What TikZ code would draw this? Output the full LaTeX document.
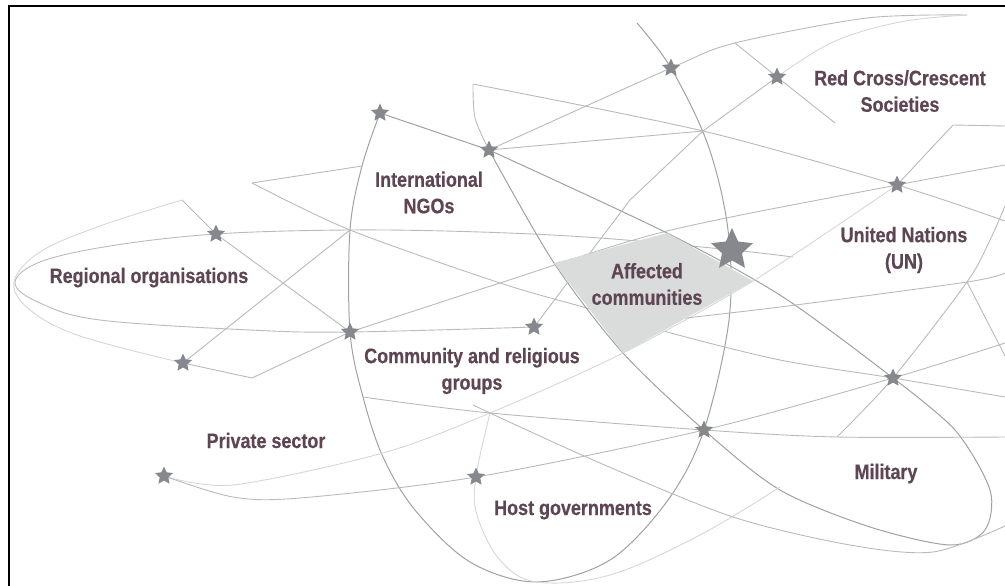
\documentclass[tikz,border=0pt]{standalone}
\usepackage{fontspec}
\setmainfont{Liberation Sans}[FakeStretch=0.855, BoldFeatures={FakeBold=0.4}]
\usepackage{tikz}
\usetikzlibrary{shapes.geometric}

\definecolor{labelcol}{RGB}{93,69,82}
\definecolor{starcol}{RGB}{135,136,141}
\definecolor{patchcol}{RGB}{218,219,219}

\tikzset{
	web/.style={draw=black!27, line width=0.9pt},
	webdark/.style={draw=black!37, line width=1pt},
	webfaint/.style={draw=black!16, line width=0.9pt},
	smallstar/.style={star, star points=5, star point ratio=2.1, fill=starcol, inner sep=0pt, minimum size=19pt},
	bigstar/.style={smallstar, minimum size=44pt},
	actor/.style={text=labelcol, font=\bfseries\fontsize{21}{26.5}\selectfont, align=center, inner sep=0pt}
}

\begin{document}
\begin{tikzpicture}[x=1pt,y=-1pt]

	\useasboundingbox (0,0) rectangle (1005,586);

	% star places
	\coordinate (S1) at (216,234);
	\coordinate (S2) at (183,363);
	\coordinate (S3) at (350,332);
	\coordinate (S4) at (380,113);
	\coordinate (S5) at (489,150);
	\coordinate (S6) at (671,68);
	\coordinate (S7) at (777,77);
	\coordinate (S8) at (897,185);
	\coordinate (S9) at (732,250);
	\coordinate (S10) at (534,327);
	\coordinate (S11) at (893,378);
	\coordinate (S12) at (704,430);
	\coordinate (S13) at (476,477);
	\coordinate (S14) at (164,476);

	% crossings and ends
	\coordinate (V1) at (182,200);
	\coordinate (V3) at (252,183);
	\coordinate (V4) at (362,166);
	\coordinate (V5) at (350,230);
	\coordinate (V6) at (252,378);
	\coordinate (V7) at (473,84);
	\coordinate (V8) at (703,131);
	\coordinate (V9) at (637,23);
	\coordinate (V10) at (735,43);
	\coordinate (V11) at (967,15);
	\coordinate (V12) at (835,123);
	\coordinate (V13) at (953,125);
	\coordinate (V15) at (967,282);
	\coordinate (V16) at (837,437);
	\coordinate (V17) at (490,413);
	\coordinate (V18) at (363,397);
	\coordinate (V19) at (537,582);
	\coordinate (V20) at (780,487);
	\coordinate (V21) at (793,257);
	\coordinate (V22) at (473,405);

	\coordinate (R1) at (1005,126);
	\coordinate (R2) at (1005,165);
	\coordinate (R3) at (1005,206);
	\coordinate (R4) at (1005,221);
	\coordinate (R5) at (1005,273);
	\coordinate (R6) at (1005,343);
	\coordinate (R7) at (1005,356);
	\coordinate (R8) at (1005,397);
	\coordinate (R9) at (1005,437);
	\coordinate (R10) at (1005,526);

	\coordinate (C1) at (554,263);
	\coordinate (C2) at (667,233);
	\coordinate (C3) at (753,281);
	\coordinate (C4) at (623,353);

	% threads
	\draw[webdark] plot[smooth, tension=0.55] coordinates {(V9) (S6) (708,145) (728,230) (729,320) (S12) (668,500) (610,560) (V19) (470,562) (415,510) (383,457) (V18) (S3) (V5) (V4) (S4)};
	\draw[web] plot[smooth, tension=0.6] coordinates {(V21) (S9) (600,238) (480,232) (V5) (S1) (110,246) (40,262) (15,283) (40,303) (100,320) (250,330) (S3) (S10)};
	\draw[webfaint] plot[smooth, tension=0.6] coordinates {(V1) (100,226) (40,252) (14,282) (30,310) (80,336) (S2)};

	\draw[web] (V1) -- (S1) -- (S3);
	\draw[web] (V3) -- (V4);
	\draw[web] (S2) -- (V5);
	\draw[web] (S2) -- (V6) -- (S3);
	\draw[web] plot[smooth, tension=0.5] coordinates {(S3) (500,283) (667,231) (S8) (R2)};
	\draw[web] plot[smooth, tension=0.5] coordinates {(V3) (V5) (500,283) (583,307) (667,332) (780,360) (S11) (R8)};
	\draw[web] plot[smooth] coordinates {(V7) (475,118) (S5)};
	\draw[web] plot[smooth, tension=0.5] coordinates {(V7) (V8) (S8) (R4)};
	\draw[webdark] (S4) -- (S5);
	\draw[webdark] plot[smooth, tension=0.5] coordinates {(S5) (C1) (C4) (S12) (780,490) (870,527) (950,545) (985,530) (990,490) (955,430) (S11)};
	\draw[webdark] plot[smooth, tension=0.5] coordinates {(S5) (C2) (783,297) (S11)};

	\draw[web] plot[smooth, tension=0.5] coordinates {(S5) (S6) (V10) (867,18) (V11)};
	\draw[web] (V10) -- (S7) -- (V12);
	\draw[webfaint] plot[smooth, tension=0.6] coordinates {(S7) (833,42) (900,22) (V11)};
	\draw[web] (S5) -- (V8);
	\draw[web] (S7) -- (V8) -- (630,200) -- (S10);
	\draw[web] (S8) -- (V13) -- (R1);

	\draw[webfaint] plot[smooth, tension=0.5] coordinates {(S14) (233,485) (383,453) (V17) (C4) (C3) (S8)};
	\draw[web] plot[smooth, tension=0.5] coordinates {(S14) (233,497) (300,498) (S13) (S12) (S11) (R6)};
	\draw[web] plot[smooth, tension=0.5] coordinates {(V18) (V17) (S12) (V16) (R9)};
	\draw[webfaint] plot[smooth, tension=0.6] coordinates {(V17) (S13) (477,515) (500,560) (V19) (610,575) (700,535) (V20)};
	\draw[web] plot[smooth, tension=0.5] coordinates {(V17) (600,463) (733,517) (850,545) (933,552) (R10)};
	\draw[web] (V22) -- (V17);
	\draw[web] plot[smooth, tension=0.5] coordinates {(650,322) (780,307) (V15) (R5)};
	\draw[web] plot[smooth, tension=0.5] coordinates {(V16) (S11) (V15) (990,240) (R3)};
	\draw[web] (V15) -- (R7);

	% grey patch
	\fill[patchcol] (C1) -- (C2) -- (C3) -- (C4) -- cycle;

	% stars
	\foreach \s in {1,...,8,10,11,12,13,14}
		\node[smallstar] (st\s) at (S\s) {};
	\node[bigstar] (st9) at (S9) {};

	% labels
	\node[actor] (redcross) at (900,91) {Red Cross/Crescent\\Societies};
	\node[actor] (ngos) at (429,192.5) {International\\NGOs};
	\node[actor] (un) at (904,250) {United Nations\\(UN)};
	\node[actor] (affected) at (647,284) {Affected\\communities};
	\node[actor] (community) at (472,371) {Community and religious\\groups};
	\node[actor, anchor=base] (regional) at (149,283) {Regional organisations};
	\node[actor, anchor=base] (private) at (266,448) {Private sector};
	\node[actor, anchor=base] (military) at (886,479) {Military};
	\node[actor, anchor=base] (host) at (573,515) {Host governments};

	% frame
	\draw[line width=2pt] (8.5,586) -- (8.5,6) -- (1005,6);

\end{tikzpicture}
\end{document}
